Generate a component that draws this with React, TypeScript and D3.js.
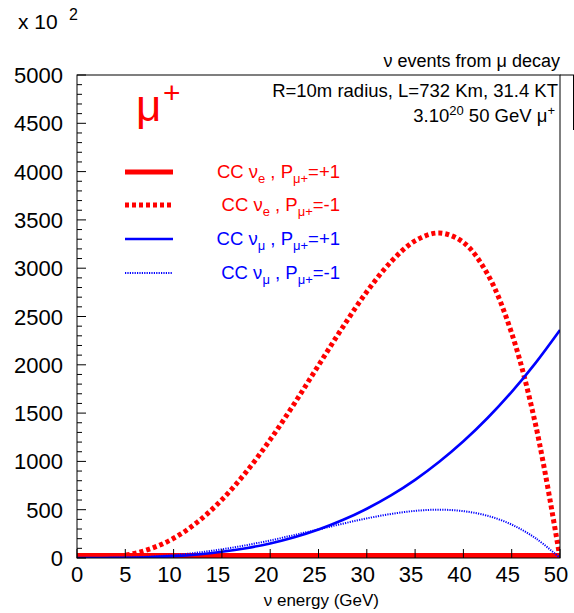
import React from "react";
import * as d3 from "d3";

const energies = [0, 2.5, 5, 7.5, 10, 12.5, 15, 17.5, 20, 22.5, 25, 27.5, 30, 32.5, 35, 37.5, 40, 42.5, 45, 47.5, 50];
const nueMinus = [0, 4, 29, 92, 204, 374, 603, 889, 1225, 1599, 1994, 2388, 2756, 3066, 3283, 3365, 3267, 2939, 2326, 1368, 0];
const nuePlus = [0, 0, 0, 0, 0, 0, 0, 0, 0, 0, 0, 0, 0, 0, 0, 0, 0, 0, 0, 0, 0];
const numuPlus = [0, 0.3, 2.4, 8, 19, 37, 64, 101, 151, 215, 295, 393, 510, 648, 809, 996, 1208, 1449, 1720, 2023, 2360];
const numuMinus = [0, 0.6, 4, 14, 30, 56, 90, 132, 182, 238, 296, 355, 410, 456, 488, 500, 485, 437, 346, 203, 0];
const xTicks = [0, 5, 10, 15, 20, 25, 30, 35, 40, 45, 50];
const yTicks = [0, 500, 1000, 1500, 2000, 2500, 3000, 3500, 4000, 4500, 5000];

const W = 574, H = 613;
const X0 = 77, X1 = 560, Y0 = 75, Y1 = 558;
const FONT = "'Liberation Sans', Arial, Helvetica, sans-serif";

export default function App() {
  const x = d3.scaleLinear().domain([0, 50]).range([X0, X1]);
  const y = d3.scaleLinear().domain([0, 5000]).range([Y1, Y0]);
  const line = (vals: number[]) =>
    d3.line<number>().x((_, i) => x(energies[i])).y((v) => y(v)).curve(d3.curveCatmullRom)(vals) || "";
  const minorY = d3.range(0, 5001, 100).filter((v) => v % 500 !== 0);

  const legendRows = [
    { y: 172, color: "red", width: 5, dash: undefined as string | undefined, sub: "e", pol: "+1" },
    { y: 205, color: "red", width: 5, dash: "4,3", sub: "e", pol: "-1" },
    { y: 239, color: "blue", width: 2.5, dash: undefined, sub: "μ", pol: "+1" },
    { y: 273, color: "blue", width: 2, dash: "1.2,1.2", sub: "μ", pol: "-1" },
  ];

  return (
    <svg width={W} height={H} style={{ position: "absolute", left: 0, top: 0, background: "white" }} fontFamily={FONT}>
      <defs>
        <clipPath id="plot">
          <rect x={X0} y={Y0} width={X1 - X0} height={Y1 - Y0} />
        </clipPath>
      </defs>
      <rect x={0} y={0} width={W} height={H} fill="white" />

      {/* multiplier */}
      <text x={18} y={29} fontSize={21}>x 10</text>
      <text x={69} y={20} fontSize={16}>2</text>

      {/* curves */}
      <g clipPath="url(#plot)" fill="none">
        <path d={line(nuePlus)} stroke="red" strokeWidth={10} />
        <path d={line(nueMinus)} stroke="red" strokeWidth={5} strokeDasharray="4,3" />
        <path d={line(numuPlus)} stroke="blue" strokeWidth={2.6} />
        <path d={line(numuMinus)} stroke="blue" strokeWidth={2} strokeDasharray="1.2,1.2" />
      </g>

      {/* frame */}
      <rect x={X0} y={Y0} width={X1 - X0} height={Y1 - Y0} fill="none" stroke="black" strokeWidth={1} />
      <line x1={X1} y1={Y0} x2={574} y2={Y0} stroke="black" />
      <line x1={573.5} y1={Y0} x2={573.5} y2={130} stroke="black" />

      {/* y ticks */}
      {yTicks.map((t) => (
        <g key={"y" + t}>
          <line x1={X0} x2={X0 + 9} y1={y(t)} y2={y(t)} stroke="black" />
          <text x={63} y={y(t) + 8} fontSize={22} textAnchor="end">{t}</text>
        </g>
      ))}
      {minorY.map((t) => (
        <line key={"m" + t} x1={X0} x2={X0 + 5} y1={y(t)} y2={y(t)} stroke="black" />
      ))}

      {/* x ticks */}
      {xTicks.map((t) => (
        <g key={"x" + t}>
          <line x1={x(t)} x2={x(t)} y1={Y1} y2={Y1 - 9} stroke="black" />
          <text x={x(t) - (t >= 10 ? 4 : 0)} y={582} fontSize={22} textAnchor="middle">{t}</text>
        </g>
      ))}

      <text x={379} y={606} fontSize={17} textAnchor="end">ν energy (GeV)</text>

      {/* title and info */}
      <text x={560} y={67} fontSize={18} textAnchor="end">ν events from μ decay</text>
      <text x={558} y={97} fontSize={18.5} textAnchor="end">R=10m radius, L=732 Km, 31.4 KT</text>
      <text x={555} y={122} fontSize={18.5} textAnchor="end">
        3.10<tspan dy={-7} fontSize={13}>20</tspan><tspan dy={7}> 50 GeV μ</tspan><tspan dy={-7} fontSize={13}>+</tspan>
      </text>

      {/* mu+ label */}
      <text x={136} y={121} fontSize={44} fill="red">μ</text>
      <text x={163} y={103} fontSize={30} fill="red">+</text>

      {/* legend */}
      {legendRows.map((r, i) => (
        <g key={"l" + i}>
          <line x1={125} x2={173} y1={r.y} y2={r.y} stroke={r.color} strokeWidth={r.width} strokeDasharray={r.dash} />
          <text x={340} y={r.y + 6} fontSize={18.5} fill={r.color} textAnchor="end">
            CC ν<tspan dy={5} fontSize={13}>{r.sub}</tspan><tspan dy={-5}> , P</tspan>
            <tspan dy={5} fontSize={13}>μ+</tspan><tspan dy={-5}>={r.pol}</tspan>
          </text>
        </g>
      ))}
    </svg>
  );
}
